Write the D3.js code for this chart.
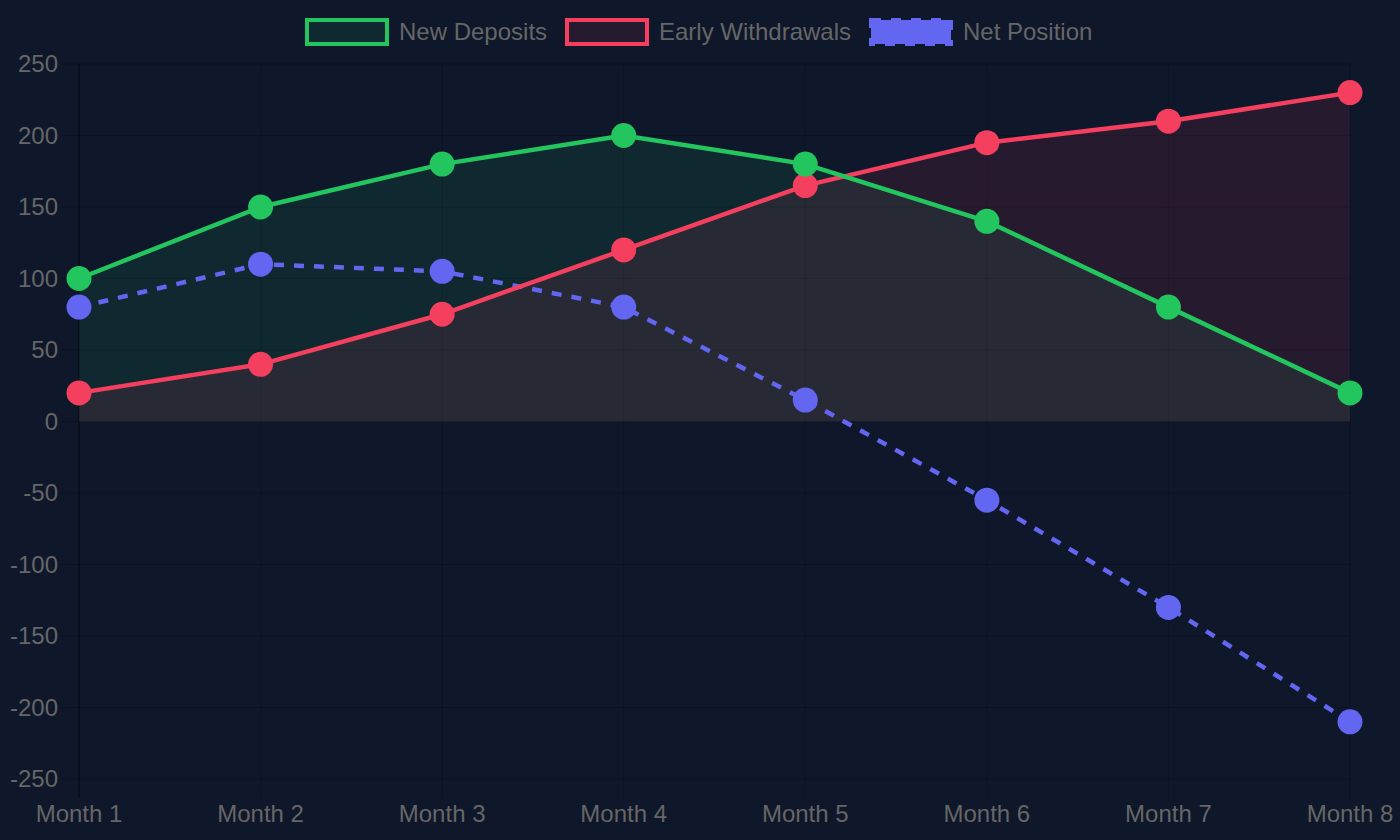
<!DOCTYPE html>
<html>
<head>
<meta charset="utf-8">
<script src="https://cdn.jsdelivr.net/npm/d3@7"></script>
<style>
  html, body { margin: 0; padding: 0; background: #0f172a; }
  svg { display: block; }
</style>
</head>
<body>
<div id="chart"></div>
<script>

// chart data
var months = ["Month 1", "Month 2", "Month 3", "Month 4", "Month 5", "Month 6", "Month 7", "Month 8"];
var newDeposits = [100, 150, 180, 200, 180, 140, 80, 20];
var earlyWithdrawals = [20, 40, 75, 120, 165, 195, 210, 230];
var netPosition = [80, 110, 105, 80, 15, -55, -130, -210];
var yTicks = [250, 200, 150, 100, 50, 0, -50, -100, -150, -200, -250];

var W = 1400, H = 840;
var margin = {top: 64, right: 50, bottom: 61, left: 79};
var width = W - margin.left - margin.right,
    height = H - margin.top - margin.bottom;

var svg = d3.select("#chart")
  .append("svg")
    .attr("width", W)
    .attr("height", H)
    .style("font-family", "'Liberation Sans', Arial, Helvetica, sans-serif");

svg.append("rect").attr("width", W).attr("height", H).attr("fill", "#0f172a");

var g = svg.append("g")
    .attr("transform", "translate(" + margin.left + "," + margin.top + ")");

var x = d3.scalePoint().domain(months).range([0, width]);
var y = d3.scaleLinear().domain([-250, 250]).range([height, 0]);

var gridColor = "rgba(0,0,0,0.18)";

// grid lines
g.append("g").selectAll("line.h")
  .data(yTicks).enter().append("line")
    .attr("x1", -18).attr("x2", width)
    .attr("y1", function(d) { return y(d); })
    .attr("y2", function(d) { return y(d); })
    .attr("stroke", gridColor).attr("stroke-width", 1);

g.append("g").selectAll("line.v")
  .data(months).enter().append("line")
    .attr("x1", function(d) { return x(d); })
    .attr("x2", function(d) { return x(d); })
    .attr("y1", 0).attr("y2", height + 19)
    .attr("stroke", gridColor).attr("stroke-width", 1);

// axis border
g.append("line")
  .attr("x1", 0).attr("x2", 0).attr("y1", 0).attr("y2", height + 19)
  .attr("stroke", "rgba(0,0,0,0.35)").attr("stroke-width", 1.5);

// tick labels
g.append("g").selectAll("text")
  .data(yTicks).enter().append("text")
    .attr("x", -21)
    .attr("y", function(d) { return y(d); })
    .attr("dy", "0.35em")
    .attr("text-anchor", "end")
    .attr("fill", "#666")
    .attr("font-size", 24)
    .text(function(d) { return d; });

g.append("g").selectAll("text")
  .data(months).enter().append("text")
    .attr("x", function(d) { return x(d); })
    .attr("y", height + 43)
    .attr("text-anchor", "middle")
    .attr("fill", "#666")
    .attr("font-size", 24)
    .text(function(d) { return d; });

var series = [
  {name: "New Deposits", values: newDeposits, color: "#22c55e", fill: "rgba(34,197,94,0.1)", dash: null, area: true},
  {name: "Early Withdrawals", values: earlyWithdrawals, color: "#f43f5e", fill: "rgba(244,63,94,0.1)", dash: null, area: true},
  {name: "Net Position", values: netPosition, color: "#6366f1", fill: "#6366f1", dash: "10,10", area: false}
];

var line = d3.line()
  .x(function(d, i) { return x(months[i]); })
  .y(function(d) { return y(d); });

var area = d3.area()
  .x(function(d, i) { return x(months[i]); })
  .y0(y(0))
  .y1(function(d) { return y(d); });

// fills first
series.forEach(function(s) {
  if (s.area) {
    g.append("path")
      .datum(s.values)
      .attr("d", area)
      .attr("fill", s.fill);
  }
});

// lines and points, last dataset drawn first
series.slice().reverse().forEach(function(s) {
  g.append("path")
    .datum(s.values)
    .attr("d", line)
    .attr("fill", "none")
    .attr("stroke", s.color)
    .attr("stroke-width", 4.5)
    .attr("stroke-dasharray", s.dash);

  g.selectAll(null)
    .data(s.values)
    .enter().append("circle")
      .attr("cx", function(d, i) { return x(months[i]); })
      .attr("cy", function(d) { return y(d); })
      .attr("r", 12.5)
      .attr("fill", s.color);
});

// legend
var legendItems = [
  {x: 307, textX: 399},
  {x: 567, textX: 659},
  {x: 871, textX: 963}
];
var legend = svg.append("g");
series.forEach(function(s, i) {
  var it = legendItems[i];
  legend.append("rect")
    .attr("x", it.x).attr("y", 20)
    .attr("width", 80).attr("height", 24)
    .attr("fill", s.fill)
    .attr("stroke", s.color)
    .attr("stroke-width", 4)
    .attr("stroke-dasharray", s.dash);
  legend.append("text")
    .attr("x", it.textX).attr("y", 32)
    .attr("dy", "0.35em")
    .attr("fill", "#666")
    .attr("font-size", 24)
    .text(s.name);
});

</script>
</body>
</html>
